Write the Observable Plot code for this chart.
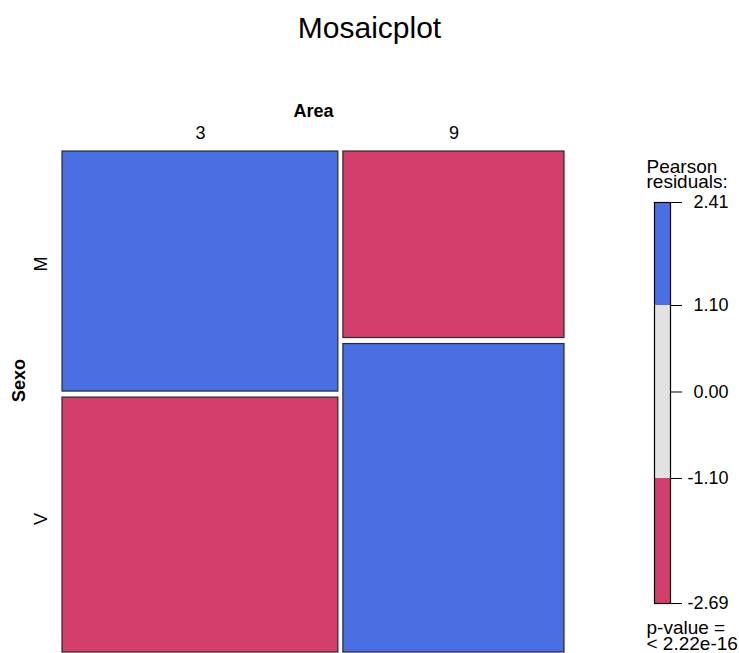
<!DOCTYPE html>
<html><head><meta charset="utf-8">
<script src="https://cdn.jsdelivr.net/npm/d3@7"></script>
<script src="https://cdn.jsdelivr.net/npm/@observablehq/plot@0.6"></script>
<style>
body{margin:0;background:#fff;}
#wrap{position:relative;width:739px;height:653px;font-family:"Liberation Sans",Arial,sans-serif;overflow:hidden;background:#fff}
#wrap svg{position:absolute;left:0;top:0;overflow:visible}
#title{position:absolute;left:0;top:13px;width:739px;text-align:center;font-size:30px;line-height:30px;color:#000}
</style></head><body>
<div id="wrap"><div id="title"></div></div>
<script>
// ---- data ----
const chartTitle = "Mosaicplot";
const areaName = "Area";
const sexName = "Sexo";
const areas = ["3", "9"];
const sexes = ["M", "V"];
// counts per area (index matches areas)
const countsM = [533, 332];
const countsV = [566, 549];
// Pearson residuals per area
const residM = [2.41, -2.69];
const residV = [-2.13, 2.37];
const legendTitleLines = ["Pearson", "residuals:"];
const legendBreaks = [-2.69, -1.10, 1.10, 2.41];
const legendTicks = [-2.69, -1.10, 0.00, 1.10, 2.41];
const legendColors = ["#D33F6A", "#E2E2E2", "#4A6FE3"];
const pValueLines = ["p-value =", "< 2.22e-16"];

// ---- layout of mosaic (proportions) ----
const gapX = 0.01, gapY = 0.012;
const counts = areas.map((a, i) => [countsM[i], countsV[i]]);
const resid = areas.map((a, i) => [residM[i], residV[i]]);
const N = d3.sum(counts.flat());
const availX = 1 - gapX * (areas.length - 1);
const availY = 1 - gapY * (sexes.length - 1);
const cells = [], cols = [];
let cx = 0;
areas.forEach((a, i) => {
  const tot = d3.sum(counts[i]);
  const x1 = cx, x2 = cx + availX * tot / N;
  cols.push({area: a, xm: (x1 + x2) / 2});
  let cy = 0;
  sexes.forEach((s, j) => {
    const y1 = cy, y2 = cy + availY * counts[i][j] / tot;
    cells.push({area: a, sex: s, col: i, x1, x2, y1, y2, ym: (y1 + y2) / 2, r: resid[i][j]});
    cy = y2 + gapY;
  });
  cx = x2 + gapX;
});

const colorScale = {type: "threshold", domain: [legendBreaks[1], legendBreaks[2]], range: legendColors};
const font = '"Liberation Sans",Arial,sans-serif';

document.getElementById("title").textContent = chartTitle;

const main = Plot.plot({
  width: 739, height: 653,
  marginTop: 151, marginBottom: 1, marginLeft: 62, marginRight: 175,
  x: {domain: [0, 1], axis: null},
  y: {domain: [0, 1], reverse: true, axis: null},
  color: colorScale,
  style: {fontFamily: font, fontSize: "18px", background: "transparent", color: "#000"},
  marks: [
    Plot.rect(cells, {x1: "x1", x2: "x2", y1: "y1", y2: "y2", fill: "r", stroke: "#2a2a2a", strokeWidth: 1.2}),
    Plot.text(cols, {x: "xm", text: "area", frameAnchor: "top", lineAnchor: "bottom", dy: -13, fontSize: 18}),
    Plot.text([areaName], {frameAnchor: "top", lineAnchor: "bottom", dy: -35, fontWeight: "bold", fontSize: 18}),
    Plot.text([sexName], {frameAnchor: "left", dx: -43, rotate: -90, fontWeight: "bold", fontSize: 18}),
    Plot.text(cells.filter(d => d.col === 0), {y: "ym", text: "sex", frameAnchor: "left", dx: -21, rotate: -90, fontSize: 18})
  ]
});

const bands = legendColors.map((c, k) => ({lo: legendBreaks[k], hi: legendBreaks[k + 1], mid: (legendBreaks[k] + legendBreaks[k + 1]) / 2}));

const legend = Plot.plot({
  width: 739, height: 653,
  marginTop: 202, marginBottom: 50, marginLeft: 654, marginRight: 69,
  x: {domain: [0, 1], axis: null},
  y: {domain: [legendBreaks[0], legendBreaks[legendBreaks.length - 1]], axis: null},
  color: colorScale,
  style: {fontFamily: font, fontSize: "18px", background: "transparent", color: "#000"},
  marks: [
    Plot.rect(bands, {y1: "lo", y2: "hi", fill: "mid"}),
    Plot.frame({stroke: "#000", strokeWidth: 1.2}),
    Plot.axisY({anchor: "right", ticks: legendTicks, tickSize: 11, tickPadding: 47,
      tickFormat: d => d.toFixed(2), textAnchor: "end", fontSize: 18}),
    Plot.text([legendTitleLines[0]], {frameAnchor: "top-left", lineAnchor: "bottom", dx: -8, dy: -30, textAnchor: "start", fontSize: 19}),
    Plot.text([legendTitleLines[1]], {frameAnchor: "top-left", lineAnchor: "bottom", dx: -8, dy: -15, textAnchor: "start", fontSize: 19}),
    Plot.text([pValueLines[0]], {frameAnchor: "bottom-left", lineAnchor: "bottom", dx: -8, dy: 30, textAnchor: "start", fontSize: 19}),
    Plot.text([pValueLines[1]], {frameAnchor: "bottom-left", lineAnchor: "bottom", dx: -8, dy: 46, textAnchor: "start", fontSize: 19})
  ]
});

const wrap = document.getElementById("wrap");
wrap.appendChild(main);
wrap.appendChild(legend);
</script>
</body></html>
